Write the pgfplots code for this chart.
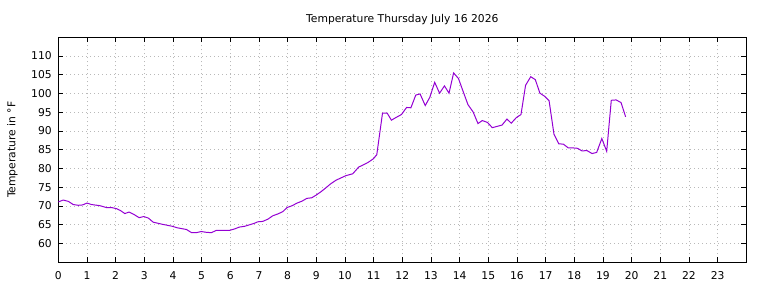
\documentclass[border=0pt]{standalone}
\usepackage{pgfplots}
\pgfplotsset{compat=1.18}
\usepackage{fontspec}
\setmainfont{DejaVu Sans}
\definecolor{gpviolet}{HTML}{9400D3}
\begin{document}
\begin{tikzpicture}
\useasboundingbox (0,0) rectangle (768bp,288bp);
\begin{axis}[
  at={(58.3bp,25.7bp)}, anchor=south west,
  scale only axis, width=688bp, height=225bp,
  xmin=0, xmax=24, ymin=55, ymax=115,
  xtick={0,1,...,23}, ytick={60,65,...,110},
  tick align=inside, major tick length=5bp,
  minor tick num=0,
  tick style={black, line width=0.6bp},
  axis line style={black, line width=0.8bp},
  grid=major,
  major grid style={gray!55, line width=0.6bp, dash pattern=on 1bp off 3bp},
  font=\fontsize{10.8}{13}\selectfont,
  /pgf/number format/assume math mode=true,
  /pgf/number format/1000 sep={},
  title={Temperature Thursday July 16 2026},
  title style={at={(0.5,1)}, anchor=base, yshift=9bp},
  ylabel={Temperature in °F},
  ylabel style={at={(axis description cs:-0.0666,0.5)}, anchor=center},
  xticklabel style={anchor=base, yshift=-17.5bp},
  yticklabel style={anchor=east, xshift=-3bp},
]
\addplot[gpviolet, line width=1bp] coordinates {
(0.00,71.1) (0.17,71.6) (0.35,71.25) (0.52,70.4) (0.70,70.2) (0.85,70.3)
(1.00,70.8) (1.16,70.4) (1.45,70.1) (1.68,69.6) (1.86,69.6) (2.03,69.3)
(2.17,68.8) (2.32,68.0) (2.47,68.4) (2.63,67.8) (2.82,66.9) (2.98,67.2)
(3.14,66.8) (3.31,65.7) (3.48,65.4) (3.65,65.1) (3.98,64.6) (4.15,64.2)
(4.47,63.75) (4.65,62.9) (4.81,62.9) (4.99,63.2) (5.16,63.0) (5.34,62.9)
(5.51,63.5) (5.68,63.5) (5.97,63.5) (6.15,63.9) (6.32,64.4) (6.50,64.6)
(6.67,65.0) (6.84,65.4) (6.96,65.8) (7.13,65.9) (7.31,66.5) (7.48,67.4)
(7.66,67.9) (7.83,68.5) (7.98,69.6) (8.16,70.1) (8.33,70.8) (8.50,71.3)
(8.67,72.05) (8.84,72.2) (8.99,72.9) (9.16,73.8) (9.34,74.9) (9.51,75.98)
(9.69,76.9) (9.86,77.5) (10.03,78.1) (10.27,78.6) (10.48,80.4) (10.67,81.1)
(10.82,81.7) (10.99,82.6) (11.11,83.7) (11.31,94.8) (11.47,94.8) (11.62,92.9)
(11.80,93.7) (11.97,94.4) (12.15,96.3) (12.30,96.2) (12.47,99.6) (12.62,99.9)
(12.80,96.8) (12.96,99.0) (13.13,103.0) (13.30,100.1) (13.47,102.05) (13.63,100.1)
(13.79,105.5) (13.96,104.0) (14.12,100.6) (14.29,97.05) (14.47,95.1) (14.64,92.0)
(14.79,92.8) (14.97,92.3) (15.14,90.9) (15.31,91.25) (15.48,91.6) (15.65,93.2)
(15.80,92.1) (15.98,93.6) (16.14,94.4) (16.30,102.2) (16.48,104.5) (16.64,103.7)
(16.80,100.1) (16.96,99.3) (17.12,98.1) (17.29,89.2) (17.46,86.6) (17.62,86.5)
(17.79,85.5) (17.95,85.5) (18.11,85.4) (18.27,84.7) (18.44,84.8) (18.62,84.0)
(18.78,84.3) (18.96,88.0) (19.13,84.6) (19.29,98.2) (19.46,98.3) (19.63,97.6)
(19.79,93.8)
};
\end{axis}
\end{tikzpicture}
\end{document}
